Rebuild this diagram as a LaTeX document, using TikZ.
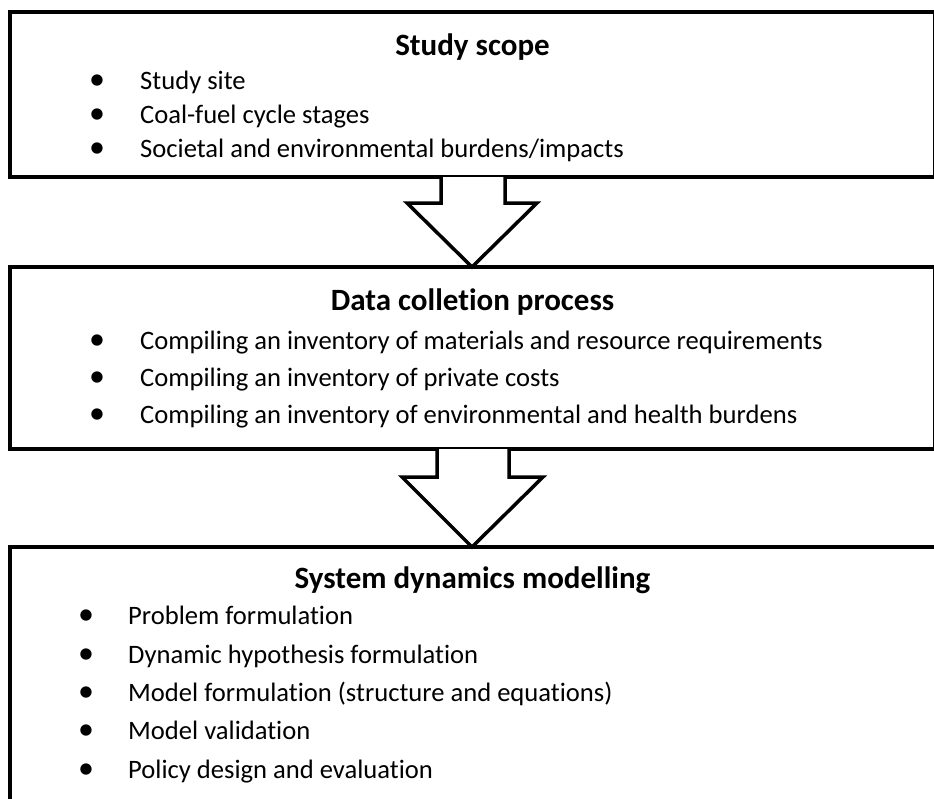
\documentclass[tikz,border=0pt]{standalone}
\usepackage{fontspec}
\setmainfont{Carlito}[Ligatures=NoCommon]
\begin{document}
\begin{tikzpicture}[x=1pt,y=-1pt,
  box/.style={draw, line width=4.5pt, fill=white, anchor=north west, outer sep=0pt, inner sep=0pt},
  boxtitle/.style={font=\fontsize{31}{36}\selectfont\bfseries, anchor=base, inner sep=0pt},
  item/.style={font=\fontsize{26.6}{30}\selectfont, anchor=base west, inner sep=0pt},
  dot/.style={font=\fontsize{32}{32}\selectfont, anchor=base, inner sep=0pt},
  bigarrow/.style={draw, line width=3.5pt, fill=white, line join=miter, miter limit=10}]
\useasboundingbox (0,0) rectangle (934,798);
\begin{scope}
\clip (0,0) rectangle (934,798);
% boxes
\node[box, minimum width=925pt, minimum height=165pt] (b1) at (10,12) {};
\node[box, minimum width=925pt, minimum height=182pt] (b2) at (10,267) {};
\node[box, minimum width=945pt, minimum height=300pt] (b3) at (10,547) {};
% arrows
\coordinate (a1l) at (441,0 |- b1.south);
\coordinate (a1r) at (505,0 |- b1.south);
\coordinate (a1t) at (472,0 |- b2.north);
\draw[bigarrow] (a1l) -- ++(0,26) -- (407,203) -- (a1t) -- (537,203) -- (505,203) -- (a1r);
\coordinate (a2l) at (437,0 |- b2.south);
\coordinate (a2r) at (509,0 |- b2.south);
\coordinate (a2t) at (472,0 |- b3.north);
\draw[bigarrow] (a2l) -- ++(0,28) -- (402,477) -- (a2t) -- (543,477) -- (509,477) -- (a2r);
\end{scope}
% box 1 text
\node[boxtitle] (t1) at (472.5,55) {Study scope};
\node[dot] (d11) at (97,89) {•}; \node[item] (i11) at (140,89) {Study site};
\node[dot] (d12) at (97,123) {•}; \node[item] (i12) at (140,123) {Coal-fuel cycle stages};
\node[dot] (d13) at (97,157) {•}; \node[item] (i13) at (140,157) {Societal and environmental burdens/impacts};
% box 2 text
\node[boxtitle] (t2) at (472.5,310) {Data colletion process};
\node[dot] (d21) at (97,349) {•}; \node[item] (i21) at (140,349) {Compiling an inventory of materials and resource requirements};
\node[dot] (d22) at (97,386) {•}; \node[item] (i22) at (140,386) {Compiling an inventory of private costs};
\node[dot] (d23) at (97,423) {•}; \node[item] (i23) at (140,423) {Compiling an inventory of environmental and health burdens};
% box 3 text
\node[boxtitle] (t3) at (472.5,588) {System dynamics modelling};
\node[dot] (d31) at (86,624) {•}; \node[item] (i31) at (128,624) {Problem formulation};
\node[dot] (d32) at (86,663) {•}; \node[item] (i32) at (128,663) {Dynamic hypothesis formulation};
\node[dot] (d33) at (86,701) {•}; \node[item] (i33) at (128,701) {Model formulation (structure and equations)};
\node[dot] (d34) at (86,739) {•}; \node[item] (i34) at (128,739) {Model validation};
\node[dot] (d35) at (86,778) {•}; \node[item] (i35) at (128,778) {Policy design and evaluation};
\end{tikzpicture}
\end{document}
